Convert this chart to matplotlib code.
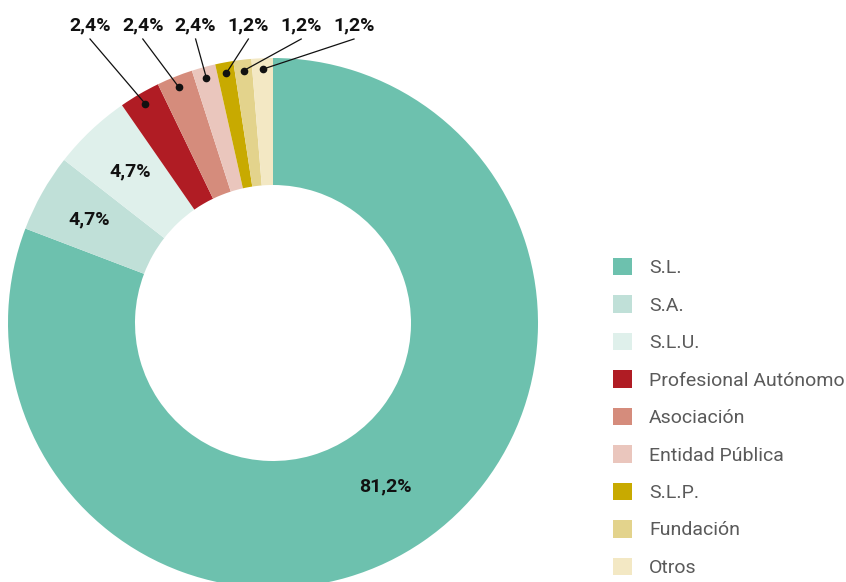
import matplotlib
matplotlib.use('Agg')
import matplotlib.pyplot as plt
import numpy as np

# Data
categories = ['S.L.', 'S.A.', 'S.L.U.', 'Profesional Autónomo', 'Asociación',
              'Entidad Pública', 'S.L.P.', 'Fundación', 'Otros']
labels = ['81,2%', '4,7%', '4,7%', '2,4%', '2,4%', '2,4%', '1,2%', '1,2%', '1,2%']
# slice sizes as they are drawn in the picture (the printed labels are rounded differently)
shares_drawn = [80.8, 4.75, 4.8, 2.5, 2.2, 1.45, 1.1, 1.1, 1.3]
colors = ['#6DC1AE', '#C0E0D8', '#DFF0EB', '#B01C24', '#D58C7C',
          '#EAC6BD', '#C8AA00', '#E3D38C', '#F3E8C4']

plt.rcParams['font.family'] = ['Roboto', 'DejaVu Sans']

W, H = 846, 582
fig = plt.figure(figsize=(W / 100, H / 100), dpi=100)
ax = fig.add_axes([0, 0, 1, 1])

cx, cy = 273, H - 323   # centre of the donut (pixels)
R = 265
ring = 127

wedges, _ = ax.pie(shares_drawn, colors=colors, startangle=90, counterclock=False,
                   center=(cx, cy), radius=R, wedgeprops=dict(width=ring, linewidth=0),
                   frame=True)
ax.set_xlim(0, W)
ax.set_ylim(0, H)
ax.set_aspect('equal')
ax.axis('off')

def mid_angle(w):
    return np.deg2rad((w.theta1 + w.theta2) / 2)

# big labels inside the ring
r_lab = [199, 211, 208]
for i in range(3):
    a = mid_angle(wedges[i])
    ax.text(cx + r_lab[i] * np.cos(a), cy + r_lab[i] * np.sin(a), labels[i],
            ha='center', va='center', fontsize=14, fontweight='bold', color='#111111')

# small labels above with leader lines
r_dot = 254
x0, dx = 90, 52.8
ty = H - 25
for k, i in enumerate(range(3, 9)):
    a = mid_angle(wedges[i])
    px, py = cx + r_dot * np.cos(a), cy + r_dot * np.sin(a)
    tx = x0 + k * dx
    ax.text(tx, ty, labels[i], ha='center', va='center', fontsize=14,
            fontweight='bold', color='#111111')
    ax.plot([tx, px], [ty - 14, py], color='#111111', lw=0.9)
    ax.plot(px, py, 'o', color='#111111', markersize=4.5)

leg = ax.legend(wedges, categories, loc='upper left', bbox_to_anchor=(613 / W, 1 - 258 / H),
                bbox_transform=fig.transFigure, frameon=False, fontsize=14,
                handlelength=1.0, handleheight=1.0, handletextpad=0.85,
                labelspacing=0.93, borderaxespad=0, borderpad=0)
for t in leg.get_texts():
    t.set_color('#5a5a5a')

fig.savefig('out.png', dpi=100)
